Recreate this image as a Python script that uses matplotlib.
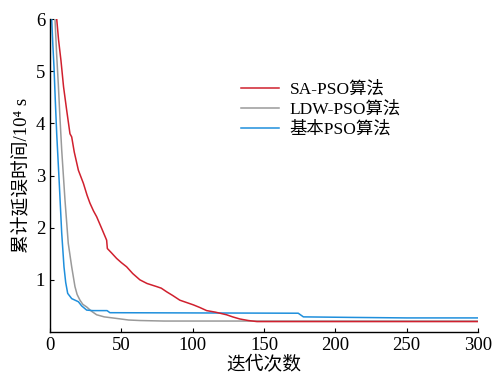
import matplotlib
matplotlib.use("Agg")
import matplotlib.pyplot as plt

plt.rcParams['font.family'] = ['Liberation Serif', 'Noto Sans CJK SC']

# SA-PSO
sa_x = [4.7, 6, 7.7, 9.5, 11.7, 14, 15.2, 17, 19.9, 23.4, 26, 28, 30.5, 32.7, 36, 39.7, 40.2, 43, 46.7, 50, 53.7, 58, 63, 68, 74.8, 78, 81.8, 86, 91, 100.5, 105, 109.8, 116, 123.8, 128, 133, 139, 145, 300]
sa_y = [6.0, 5.6, 5.2, 4.7, 4.25, 3.8, 3.74, 3.45, 3.1, 2.85, 2.62, 2.47, 2.32, 2.21, 2.0, 1.76, 1.6, 1.52, 1.41, 1.33, 1.25, 1.12, 1.0, 0.93, 0.87, 0.84, 0.77, 0.7, 0.61, 0.52, 0.47, 0.41, 0.38, 0.33, 0.29, 0.25, 0.22, 0.2, 0.2]
# LDW-PSO
ldw_x = [3.5, 4.6, 5.8, 7, 8.2, 10.5, 12.8, 15.2, 17.5, 19, 21, 23, 25.7, 29, 32.7, 38, 46.7, 55, 63, 80, 300]
ldw_y = [6.0, 5.35, 4.76, 4.1, 3.49, 2.53, 1.7, 1.25, 0.87, 0.72, 0.61, 0.53, 0.48, 0.4, 0.33, 0.29, 0.26, 0.23, 0.22, 0.21, 0.21]
# 基本PSO
b_x = [1.2, 2.0, 2.8, 3.7, 4.7, 6.5, 8.2, 9.8, 11, 12.4, 15.2, 19.9, 22.2, 25.7, 30, 40, 42, 174, 177.6, 210, 250, 300]
b_y = [6.0, 5.5, 5.08, 4.45, 3.8, 2.85, 1.9, 1.25, 0.95, 0.74, 0.64, 0.58, 0.5, 0.42, 0.41, 0.41, 0.37, 0.36, 0.29, 0.28, 0.27, 0.27]

labels = ['SA-PSO算法', 'LDW-PSO算法', '基本PSO算法']
colors = ['#d0202e', '#9a9a9a', '#1f8fdc']
xticks = [0, 50, 100, 150, 200, 250, 300]
yticks = [1, 2, 3, 4, 5, 6]

fig = plt.figure(figsize=(4.94, 3.74), dpi=100)
ax = fig.add_axes([50/494, 1-332/374, 428/494, 313/374])

ax.plot(ldw_x, ldw_y, color=colors[1], lw=1.1, label=labels[1])
ax.plot(b_x, b_y, color=colors[2], lw=1.1, label=labels[2])
ax.plot(sa_x, sa_y, color=colors[0], lw=1.1, label=labels[0])

ax.set_xlim(0, 300)
ax.set_ylim(0, 6)
ax.set_xticks(xticks)
ax.set_yticks(yticks)
ax.tick_params(direction='in', labelsize=13.5, length=3, width=0.8)
for s in ['top', 'right']:
    ax.spines[s].set_visible(False)
ax.spines['left'].set_linewidth(1.0)
ax.spines['bottom'].set_linewidth(1.0)

ax.set_xlabel('迭代次数', fontsize=13.5, labelpad=2)
ax.set_ylabel('累计延误时间/10⁴ s', fontsize=13.5, labelpad=4)

h, l = ax.get_legend_handles_labels()
order = [2, 0, 1]
ax.legend([h[i] for i in order], [l[i] for i in order], frameon=False, fontsize=12.5,
          loc='upper left', bbox_to_anchor=(0.41, 0.85), handlelength=2.2,
          handletextpad=0.6, labelspacing=0.2)

fig.savefig('out.png', dpi=100)
